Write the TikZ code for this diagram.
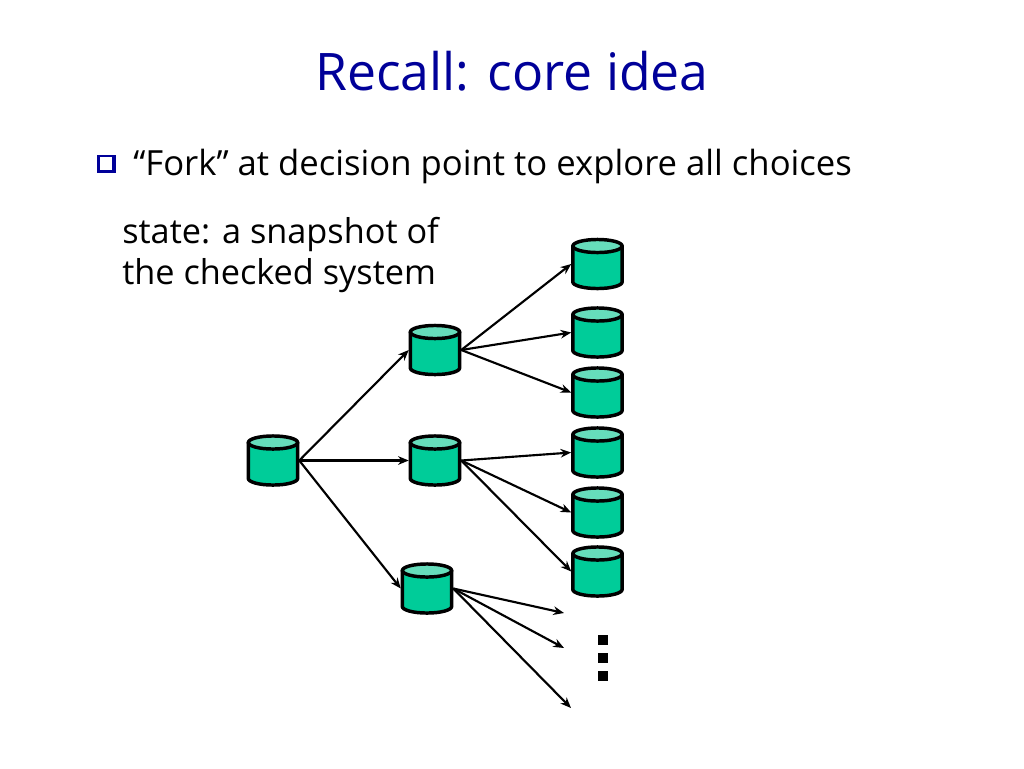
\documentclass[tikz,border=0pt]{standalone}
\usepackage{fontspec}
\setmainfont{Open Sans}
\usetikzlibrary{arrows.meta}
\definecolor{cylbody}{HTML}{00CC99}
\definecolor{cyltop}{HTML}{66DDBB}
\definecolor{titleblue}{HTML}{000099}
\tikzset{
  x=0.75pt,y=-0.75pt,
  dbbox/.style={draw=none,minimum width=39pt,minimum height=38.5pt,inner sep=0pt},
  dbline/.style={draw=black,line width=2.6pt,line join=round},
  link/.style={-{Stealth[length=8pt,width=6.5pt]},line width=1.6pt,black},
  txt/.style={inner sep=0pt,anchor=base west,text=black},
  dotbox/.style={fill=black,draw=none,minimum size=7.5pt,inner sep=0pt}
}
\newcommand{\dbcyl}[3]{%
  \node[dbbox] (#1) at (#2,#3) {};
  \begin{scope}[shift={(#1.center)}]
    \path[dbline,fill=cylbody] (-24.7,-18) -- (-24.7,18)
      arc[start angle=180,end angle=360,x radius=18.5pt,y radius=4.9pt]
      -- (24.7,-18) -- cycle;
    \path[dbline,fill=cyltop] (0,-18) ellipse [x radius=18.5pt,y radius=4.9pt];
  \end{scope}}
\begin{document}
\begin{tikzpicture}
\useasboundingbox (0,0) rectangle (1024,768);
\node[txt,anchor=base,text=titleblue,font=\fontsize{38.8}{42}\selectfont] (title) at (512,90) {Recall: core idea};
\node[fill=titleblue,draw=none,minimum width=13.9pt,minimum height=13.5pt,inner sep=0pt] (bullet) at (106.5,164) {};
\node[fill=white,draw=none,minimum width=9.6pt,minimum height=9.6pt,inner sep=0pt] (bulletin) at (106,163.3) {};
\node[txt,font=\fontsize{26}{30}\selectfont] (fork) at (133,175) {“Fork” at decision point to explore all choices};
\node[txt,font=\fontsize{25.7}{30}\selectfont] (state1) at (122,243) {state: a snapshot of};
\node[txt,font=\fontsize{25.7}{30}\selectfont] (state2) at (122,284) {the checked system};
\dbcyl{r}{273}{460.5}
\dbcyl{m1}{435}{350}
\dbcyl{m2}{435}{460.5}
\dbcyl{m3}{427}{588.5}
\dbcyl{t1}{597.5}{264}
\dbcyl{t2}{597.5}{332.5}
\dbcyl{t3}{597.5}{392.5}
\dbcyl{t4}{597.5}{452.5}
\dbcyl{t5}{597.5}{512.5}
\dbcyl{t6}{597.5}{571.5}
\coordinate (e1) at (564,613);
\coordinate (e2) at (564,648);
\coordinate (e3) at (571,708);
\foreach \a/\b in {r/m1,r/m2,r/m3,m1/t1,m1/t2,m1/t3,m2/t4,m2/t5,m2/t6}
  \draw[link] (\a.east) -- (\b.west);
\foreach \b in {e1,e2,e3}
  \draw[link] (m3.east) -- (\b);
\node[dotbox] (d1) at (603,640) {};
\node[dotbox] (d2) at (603,658) {};
\node[dotbox] (d3) at (603,676) {};
\end{tikzpicture}
\end{document}
